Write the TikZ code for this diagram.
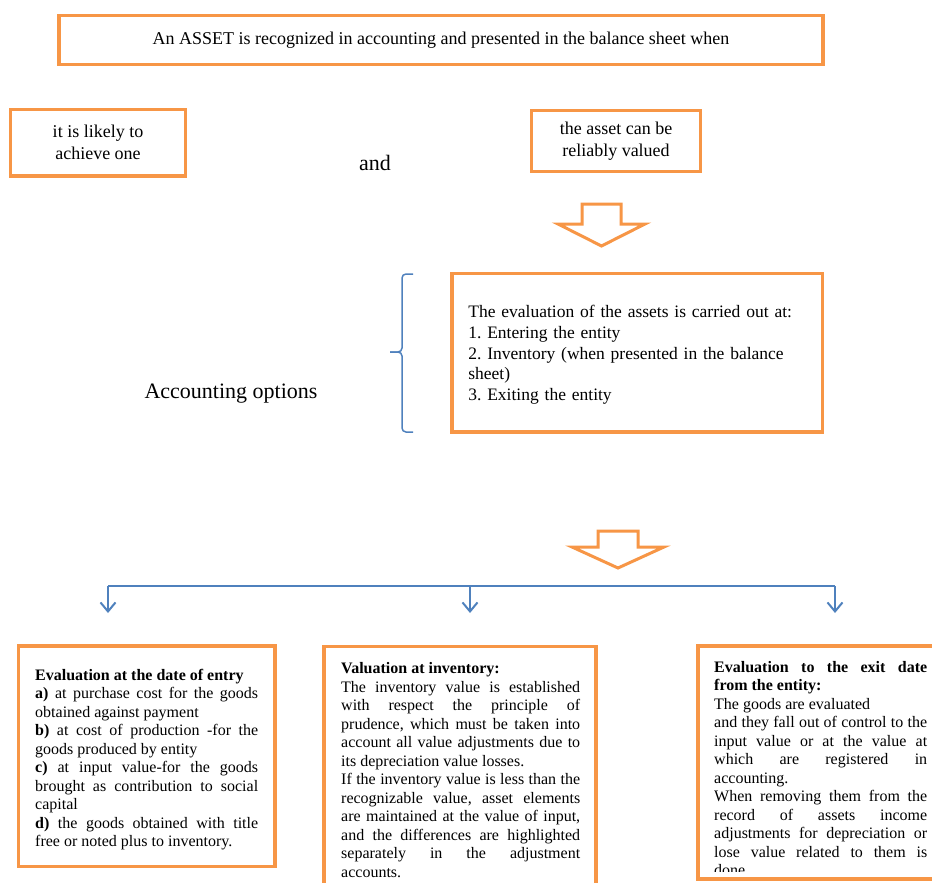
\documentclass[tikz,border=0pt]{standalone}
\usepackage{fontspec}
\setmainfont{Liberation Serif}
\usetikzlibrary{arrows.meta}
\definecolor{boxorange}{HTML}{F79646}
\definecolor{lineblue}{HTML}{4F81BD}
\frenchspacing

\begin{document}
\begin{tikzpicture}[x=1pt,y=-1pt]
        \tikzstyle{every node}+=[inner sep=0pt]
        \tikzstyle{framebox}=[draw=boxorange, line width=3.5pt, outer sep=0pt]
        \tikzstyle{blockarrow}=[draw=boxorange, line width=3pt, fill=white, line join=miter]
        \tikzstyle{bodytext}=[align=justify, font=\fontsize{16}{18.5}\selectfont]
        \tikzstyle{feed}=[draw=lineblue, line width=2pt, -{Straight Barb[length=9pt,width=15pt]}]
        \useasboundingbox (0,0) rectangle (932,883);
        \clip (0,0) rectangle (932,883);
        \node [framebox, minimum width=764, minimum height=49.4, font=\fontsize{18}{22}\selectfont] (when) at (441,40) {An ASSET is recognized in accounting and presented in the balance sheet when};
        \node [framebox, minimum width=175, minimum height=66.5, align=center, font=\fontsize{18}{22}\selectfont] (likely) at (98,142.75) {it is likely to\\achieve one};
        \node [font=\fontsize{22}{26}\selectfont, anchor=base] (and) at (375,170) {and};
        \node [framebox, minimum width=169, minimum height=61, align=center, font=\fontsize{18}{22}\selectfont] (valued) at (616,141) {the asset can be\\reliably valued};
        \draw [blockarrow] (582,204) -- (621,204) -- (621,224) -- (645,224) -- (601.5,246) -- (558,224) -- (582,224) -- cycle;
        \node [font=\fontsize{22}{26}\selectfont, anchor=base] (options) at (231,398) {Accounting options};
        \draw [lineblue, line width=1.5pt, rounded corners=4pt] (413,274) -| (402,352) -- (390,352);
        \draw [lineblue, line width=1.5pt, rounded corners=4pt] (390,352) -| (402,432) -- (413,432);
        \node [framebox, minimum width=370.7, minimum height=158.3, outer sep=0pt] (moments) at (637.35,352.85) {};
        \node [text width=338, align=left, font=\fontsize{17.5}{20.75}\selectfont] (momentstext) at ([yshift=-2]moments.center) {The evaluation of the assets is carried out at:\\1. Entering the entity\\2. Inventory (when presented in the balance\\sheet)\\3. Exiting the entity};
        \draw [blockarrow] (598,531) -- (638,531) -- (638,547) -- (664,547) -- (618,568) -- (572,547) -- (598,547) -- cycle;
        \coordinate (busL) at (108,586);
        \coordinate (busM) at (470,586);
        \coordinate (busR) at (835,586);
        \coordinate (tipL) at (108,613);
        \coordinate (tipM) at (470,613);
        \coordinate (tipR) at (835,613);
        \draw [lineblue, line width=2pt] (busL) -- (busR);
        \draw [feed] (busL) -- (tipL);
        \draw [feed] (busM) -- (tipM);
        \draw [feed] (busR) -- (tipR);
        \node [framebox, minimum width=256.5, minimum height=220.5, anchor=north west] (entry) at (18.5,646) {};
        \node [bodytext, text width=223, anchor=north west] (entrytext) at ([shift={(16.5,23)}]entry.north west) {\textbf{Evaluation at the date of entry}\par
          \textbf{a)} at purchase cost for the goods\linebreak obtained against payment\par
          \textbf{b)} at cost of production -for the\linebreak goods produced by entity\par
          \textbf{c)} at input value-for the goods\linebreak brought as contribution to social\linebreak capital\par
          \textbf{d)} the goods obtained with title\linebreak free or noted plus to inventory.};
        \node [framebox, minimum width=272, minimum height=260, anchor=north west] (stock) at (324,646.3) {};
        \node [bodytext, text width=239, anchor=north west] (stocktext) at ([shift={(17,16)}]stock.north west) {\textbf{Valuation at inventory:}\par
          The inventory value is established\linebreak with respect the principle of\linebreak prudence, which must be taken into\linebreak account all value adjustments due to\linebreak its depreciation value losses.\par
          If the inventory value is less than the\linebreak recognizable value, asset elements\linebreak are maintained at the value of input,\linebreak and the differences are highlighted\linebreak separately in the adjustment\linebreak accounts.};
        \node [framebox, minimum width=260, minimum height=233, anchor=north west] (exit) at (698,646) {};
        \begin{scope}
          \clip ([shift={(1.75,1.75)}]exit.north west) rectangle ([shift={(-1.75,-8)}]exit.south east);
          \node [bodytext, text width=213, anchor=north west] (exittext) at ([shift={(16,15)}]exit.north west) {\textbf{Evaluation to the exit date\linebreak from the entity:}\par
            The goods are evaluated\par
            and they fall out of control to the\linebreak input value or at the value at\linebreak which are registered in\linebreak accounting.\par
            When removing them from the\linebreak record of assets income\linebreak adjustments for depreciation or\linebreak lose value related to them is\linebreak done.};
        \end{scope}
      \end{tikzpicture}
\end{document}
